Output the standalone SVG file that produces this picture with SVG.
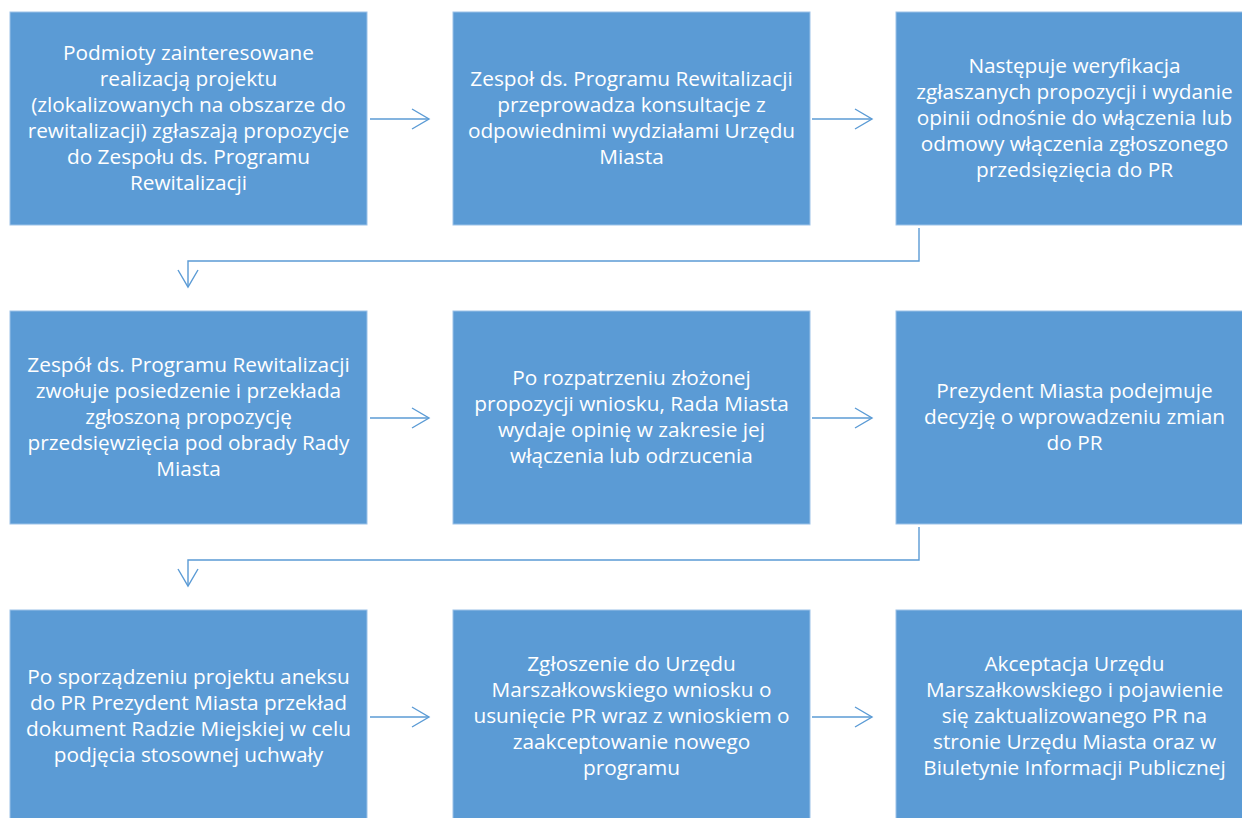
<svg xmlns="http://www.w3.org/2000/svg" width="1242" height="818" viewBox="0 0 1242 818">
<style>
.box{fill:#5B9BD5;stroke:#9CC2E8;stroke-width:1}
.t{fill:#ffffff;font-family:"Open Sans","Noto Sans",sans-serif;font-size:20.8px;text-anchor:middle}
.c{fill:none;stroke:#5B9BD5;stroke-width:1.4}
</style>
<defs>
<marker id="ah" markerUnits="userSpaceOnUse" markerWidth="24" markerHeight="24" refX="18" refY="11" orient="auto">
<polyline points="1,1 18,11 1,21" fill="none" stroke="#5B9BD5" stroke-width="1.4"/>
</marker>
</defs>
<rect width="1242" height="818" fill="#ffffff"/>
<g id="connectors">
<path class="c" d="M370,119 H429" marker-end="url(#ah)"/>
<path class="c" d="M812,119 H872" marker-end="url(#ah)"/>
<path class="c" d="M919,228 V261 H188 V287" marker-end="url(#ah)"/>
<path class="c" d="M370,418 H429" marker-end="url(#ah)"/>
<path class="c" d="M812,418 H872" marker-end="url(#ah)"/>
<path class="c" d="M919,527 V560 H188 V586" marker-end="url(#ah)"/>
<path class="c" d="M370,717 H429" marker-end="url(#ah)"/>
<path class="c" d="M812,717 H872" marker-end="url(#ah)"/>
</g>
<g id="n1">
<rect class="box" x="10" y="12" width="357" height="213"/>
<text class="t"><tspan x="188.5" y="60">Podmioty zainteresowane</tspan><tspan x="188.5" y="86">realizacją projektu</tspan><tspan x="188.5" y="112">(zlokalizowanych na obszarze do</tspan><tspan x="188.5" y="138">rewitalizacji) zgłaszają propozycje</tspan><tspan x="188.5" y="164">do Zespołu ds. Programu</tspan><tspan x="188.5" y="190">Rewitalizacji</tspan></text>
</g>
<g id="n2">
<rect class="box" x="453" y="12" width="357" height="213"/>
<text class="t"><tspan x="631.5" y="86">Zespoł ds. Programu Rewitalizacji</tspan><tspan x="631.5" y="112">przeprowadza konsultacje z</tspan><tspan x="631.5" y="138">odpowiednimi wydziałami Urzędu</tspan><tspan x="631.5" y="164">Miasta</tspan></text>
</g>
<g id="n3">
<rect class="box" x="896" y="12" width="357" height="213"/>
<text class="t"><tspan x="1074.5" y="73">Następuje weryfikacja</tspan><tspan x="1074.5" y="99">zgłaszanych propozycji i wydanie</tspan><tspan x="1074.5" y="125">opinii odnośnie do włączenia lub</tspan><tspan x="1074.5" y="151">odmowy włączenia zgłoszonego</tspan><tspan x="1074.5" y="177">przedsięzięcia do PR</tspan></text>
</g>
<g id="n4">
<rect class="box" x="10" y="311" width="357" height="213"/>
<text class="t"><tspan x="188.5" y="372">Zespół ds. Programu Rewitalizacji</tspan><tspan x="188.5" y="398">zwołuje posiedzenie i przekłada</tspan><tspan x="188.5" y="424">zgłoszoną propozycję</tspan><tspan x="188.5" y="450">przedsięwzięcia pod obrady Rady</tspan><tspan x="188.5" y="476">Miasta</tspan></text>
</g>
<g id="n5">
<rect class="box" x="453" y="311" width="357" height="213"/>
<text class="t"><tspan x="631.5" y="385">Po rozpatrzeniu złożonej</tspan><tspan x="631.5" y="411">propozycji wniosku, Rada Miasta</tspan><tspan x="631.5" y="437">wydaje opinię w zakresie jej</tspan><tspan x="631.5" y="463">włączenia lub odrzucenia</tspan></text>
</g>
<g id="n6">
<rect class="box" x="896" y="311" width="357" height="213"/>
<text class="t"><tspan x="1074.5" y="398">Prezydent Miasta podejmuje</tspan><tspan x="1074.5" y="424">decyzję o wprowadzeniu zmian</tspan><tspan x="1074.5" y="450">do PR</tspan></text>
</g>
<g id="n7">
<rect class="box" x="10" y="610" width="357" height="213"/>
<text class="t"><tspan x="188.5" y="683.5">Po sporządzeniu projektu aneksu</tspan><tspan x="188.5" y="709.5">do PR Prezydent Miasta przekład</tspan><tspan x="188.5" y="735.5">dokument Radzie Miejskiej w celu</tspan><tspan x="188.5" y="761.5">podjęcia stosownej uchwały</tspan></text>
</g>
<g id="n8">
<rect class="box" x="453" y="610" width="357" height="213"/>
<text class="t"><tspan x="631.5" y="670.5">Zgłoszenie do Urzędu</tspan><tspan x="631.5" y="696.5">Marszałkowskiego wniosku o</tspan><tspan x="631.5" y="722.5">usunięcie PR wraz z wnioskiem o</tspan><tspan x="631.5" y="748.5">zaakceptowanie nowego</tspan><tspan x="631.5" y="774.5">programu</tspan></text>
</g>
<g id="n9">
<rect class="box" x="896" y="610" width="357" height="213"/>
<text class="t"><tspan x="1074.5" y="670.5">Akceptacja Urzędu</tspan><tspan x="1074.5" y="696.5">Marszałkowskiego i pojawienie</tspan><tspan x="1074.5" y="722.5">się zaktualizowanego PR na</tspan><tspan x="1074.5" y="748.5">stronie Urzędu Miasta oraz w</tspan><tspan x="1074.5" y="774.5">Biuletynie Informacji Publicznej</tspan></text>
</g>
</svg>
